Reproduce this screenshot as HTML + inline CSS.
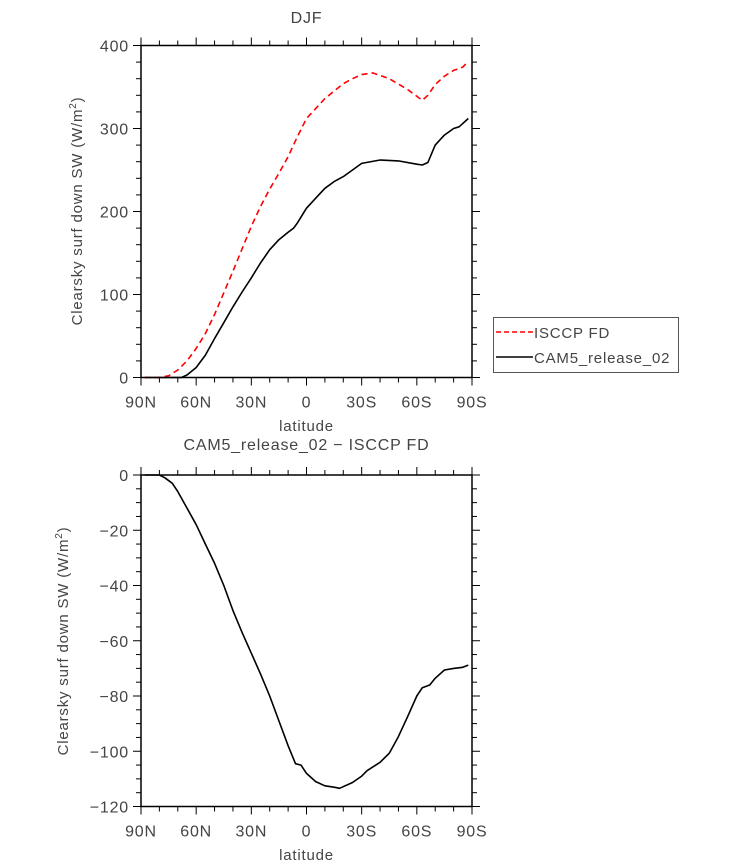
<!DOCTYPE html>
<html><head><meta charset="utf-8"><style>
body{margin:0;background:#fff;}
svg{display:block;font-family:"Liberation Sans",sans-serif;}
text{fill:#444;letter-spacing:0.8px;}
</style></head><body>
<svg id="c" width="733" height="866" xmlns="http://www.w3.org/2000/svg">
<text x="306.5" y="23" font-size="16" text-anchor="middle">DJF</text>
<text x="306.5" y="450" font-size="16" text-anchor="middle">CAM5_release_02 − ISCCP FD</text>
<text x="306.5" y="431" font-size="15" text-anchor="middle">latitude</text>
<text x="306.5" y="860" font-size="15" text-anchor="middle">latitude</text>
<text transform="translate(82,211) rotate(-90)" font-size="15" text-anchor="middle">Clearsky surf down SW (W/m<tspan font-size="10" dy="-6">2</tspan><tspan dy="6">)</tspan></text>
<text transform="translate(68,641) rotate(-90)" font-size="15" text-anchor="middle">Clearsky surf down SW (W/m<tspan font-size="10" dy="-6">2</tspan><tspan dy="6">)</tspan></text>
<g>
<rect x="493.5" y="317.5" width="185" height="55" fill="none" stroke="#555"/>
<line x1="496" y1="332" x2="533" y2="332" stroke="#f00" stroke-width="1.5" stroke-dasharray="5,3"/>
<text x="534" y="338" font-size="15">ISCCP FD</text>
<line x1="496" y1="357" x2="533" y2="357" stroke="#000" stroke-width="1.5"/>
<text x="534" y="363" font-size="15">CAM5_release_02</text>
</g>
</svg>
<script>
const xTickLabels=["90N","60N","30N","0","30S","60S","90S"];
const xTickLats=[90,60,30,0,-30,-60,-90];
const topYTicks=[0,100,200,300,400];
const botYTicks=[0,-20,-40,-60,-80,-100,-120];
const botYLabels=["0","−20","−40","−60","−80","−100","−120"];
const isccpLat=[88,80,75,70,65,60,55,50,45,40,35,30,25,20,15,10,5,0,-5,-10,-15,-20,-25,-30,-36,-45,-55,-63,-66,-70,-75,-80,-85,-88];
const isccpVal=[0,0,2,9,20,35,53,76,102,128,155,182,206,227,246,266,290,312,324,336,345,354,360,365,367,360,347,334,340,353,363,370,374,381];
const camLat=[88,75,68,65,60,55,50,45,40,35,30,25,20,15,10,7,5,0,-5,-10,-15,-20,-25,-30,-40,-50,-60,-63,-66,-70,-75,-80,-83,-88];
const camVal=[0,0,0,3,12,27,47,66,85,103,120,138,154,166,175,180,186,204,216,228,236,242,250,258,262,261,257,256,259,280,292,300,302,312];
const diffLat=[88,80,77,73,70,65,60,55,50,45,40,35,30,25,20,15,10,6,3,0,-5,-10,-15,-18,-25,-30,-33,-40,-45,-50,-55,-60,-63,-67,-70,-75,-80,-85,-88];
const diffVal=[0,0,-1,-3,-6,-12,-18,-25,-32,-40,-49,-57,-64.5,-72,-80,-89,-98,-104.5,-105,-108,-111,-112.5,-113,-113.4,-111.3,-109,-107,-104,-100.7,-94.7,-87.5,-80,-77,-76,-73.6,-70.6,-70,-69.6,-68.8];

const NS="http://www.w3.org/2000/svg";
const svg=document.getElementById('c');
const L=141,R=472;
function xs(lat){return L+(90-lat)/180*(R-L);}
function mk(tag,attrs,parent){const e=document.createElementNS(NS,tag);for(const k in attrs)e.setAttribute(k,attrs[k]);(parent||svg).appendChild(e);return e;}

function panel(name,T,B,ymin,ymax,yt,ylab,minorStep){
  const ys=v=>B-(v-ymin)/(ymax-ymin)*(B-T);
  const g=mk('g',{});
  
  
  const fr=mk('rect',{x:L,y:T,width:R-L,height:B-T,fill:'none',stroke:'#000','stroke-width':1.5},g);
  
  
  for(let lat=90;lat>=-90;lat-=10){
    const major=lat%30===0, x=xs(lat), len=major?8:5;
    mk('line',{x1:x,x2:x,y1:B,y2:B+len,stroke:'#000'},g);
    mk('line',{x1:x,x2:x,y1:T,y2:T-len,stroke:'#000'},g);
  }
  xTickLats.forEach((lat,i)=>{
    const t=mk('text',{x:xs(lat),y:B+30,'font-size':16,'text-anchor':'middle'},g);
    t.textContent=xTickLabels[i];
    
    
  });
  for(let v=ymin;v<=ymax+1e-6;v+=minorStep){
    const y=ys(v), major=yt.some(t=>Math.abs(t-v)<1e-6), len=major?8:5;
    mk('line',{x1:L,x2:L-len,y1:y,y2:y,stroke:'#000'},g);
    mk('line',{x1:R,x2:R+len,y1:y,y2:y,stroke:'#000'},g);
  }
  yt.forEach((v,i)=>{
    const t=mk('text',{x:L-12,y:ys(v)+6,'font-size':16,'text-anchor':'end'},g);
    t.textContent=ylab[i];
    
    
  });
  return ys;
}
function line(lats,vals,ys,color,dash,nm){
  const d=lats.map((l,i)=>(i?'L':'M')+xs(l).toFixed(1)+','+ys(vals[i]).toFixed(1)).join('');
  const p=mk('path',{d:d,fill:'none',stroke:color,'stroke-width':1.6,'stroke-linejoin':'round'});
  if(dash)p.setAttribute('stroke-dasharray',dash);
  
  
}
const ysTop=panel('top',45.5,377.5,0,400,topYTicks,topYTicks.map(String),20);
line(isccpLat,isccpVal,ysTop,'#f00','6,4','isccp-fd-line');
line(camLat,camVal,ysTop,'#000',null,'cam5-line');
const ysBot=panel('bottom',475,806.5,-120,0,botYTicks,botYLabels,5);
line(diffLat,diffVal,ysBot,'#000',null,'difference-line');
</script>
</body></html>
